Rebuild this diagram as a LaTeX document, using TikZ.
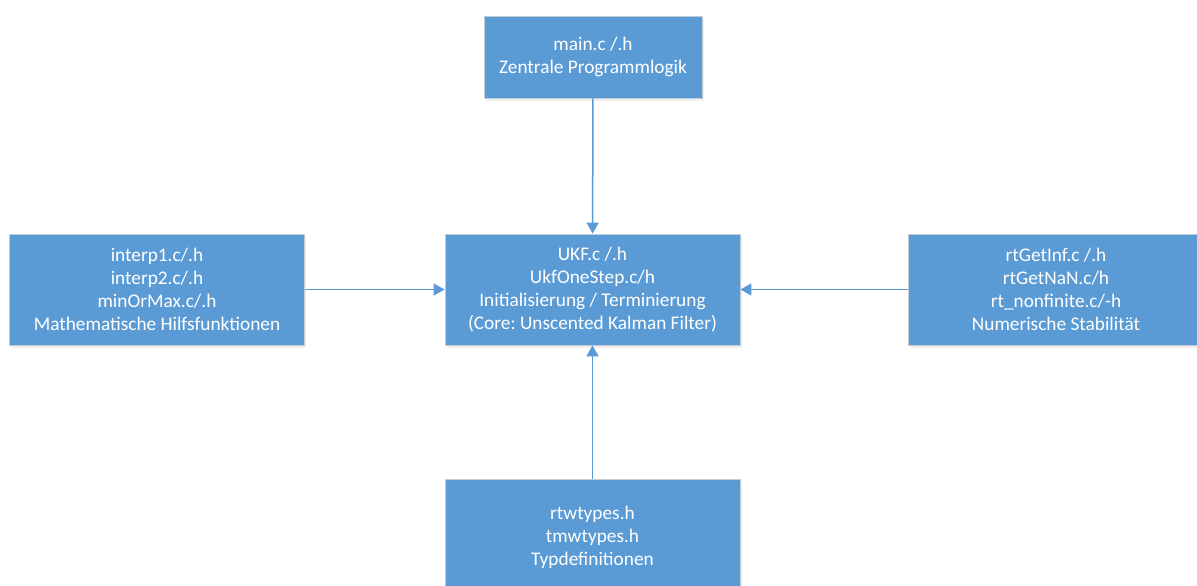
\documentclass[tikz,border=0pt]{standalone}
\usepackage{fontspec}
\setmainfont{Carlito}
\usetikzlibrary{arrows.meta,shadows}
\definecolor{boxblue}{HTML}{5B9BD5}
\definecolor{boxedge}{HTML}{C3CCD6}
\frenchspacing
\tikzset{
  modbox/.style={rectangle, fill=boxblue, draw=boxedge, line width=0.8pt,
    text=white, align=center, minimum width=295pt, minimum height=110pt,
    inner sep=0pt, font=\fontsize{19.3}{23}\selectfont,
    drop shadow={opacity=0.12, shadow xshift=1.5pt, shadow yshift=-2.5pt}},
  link/.style={draw=boxblue, line width=1.5pt, -{Triangle[length=11pt,width=12pt]}}
}
\begin{document}
\begin{tikzpicture}[x=1pt,y=-1pt]
\useasboundingbox (0,0) rectangle (1197,586);
\clip (0,0) rectangle (1197,586);
\node[modbox, minimum width=218pt, minimum height=82pt] (main) at (593,57) {main.c /.h\\Zentrale Programmlogik};
\node[modbox, minimum height=111pt] (ukf) at (592.5,289.5) {UKF.c /.h\\UkfOneStep.c/h\\Initialisierung / Terminierung\\(Core: Unscented Kalman Filter)};
\node[modbox, minimum height=111pt] (math) at (157,289.5) {interp1.c/.h\\interp2.c/.h\\minOrMax.c/.h\\Mathematische Hilfsfunktionen};
\node[modbox, minimum height=111pt] (rt) at (1056,289.5) {rtGetInf.c /.h\\rtGetNaN.c/h\\rt\_nonfinite.c/-h\\Numerische Stabilität};
\node[modbox, minimum height=116pt] (types) at (592.5,537) {rtwtypes.h\\tmwtypes.h\\Typdefinitionen};
\draw[link] (main) -- (ukf);
\draw[link] (math) -- (ukf);
\draw[link] (rt) -- (ukf);
\draw[link] (types) -- (ukf);
\end{tikzpicture}
\end{document}
